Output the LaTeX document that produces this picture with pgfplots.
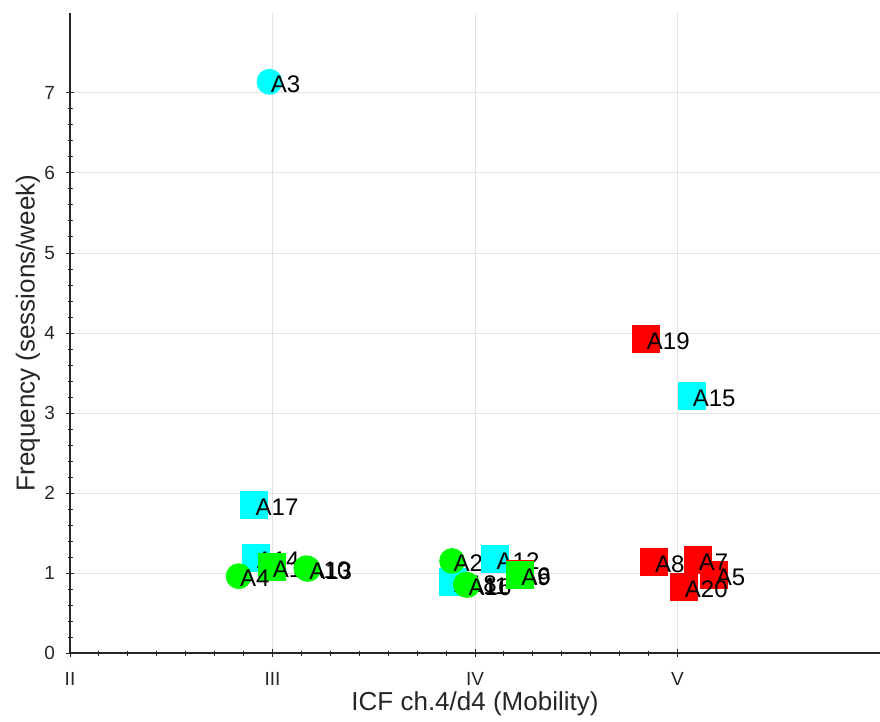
\documentclass[border=0pt]{standalone}
\usepackage{pgfplots}
\pgfplotsset{compat=1.18}
\usepackage{fontspec}
\setmainfont{Liberation Sans}
\definecolor{axcol}{HTML}{262626}
\definecolor{grdcol}{HTML}{E3E3E3}
\definecolor{pcyan}{HTML}{00FFFF}
\definecolor{pgreen}{HTML}{00FF00}
\definecolor{pred}{HTML}{FF0000}

\pgfplotsset{
  lbl/.style={nodes near coords, point meta=explicit symbolic,
    nodes near coords style={anchor=west, text=black, inner sep=0pt,
      xshift=0.5pt, yshift=-1pt, font=\fontsize{12}{14}\selectfont}},
  pc/.style={only marks, mark=*, mark size=6.25pt, color=#1, lbl},
  ps/.style={only marks, mark=square*, mark size=6.75pt, color=#1, lbl},
}

\begin{document}
\begin{tikzpicture}
\begin{axis}[
    scale only axis,
    width=405pt, height=320pt,
    xmin=2, xmax=6,
    ymin=0, ymax=8,
    xtick={2,3,4,5},
    xticklabels={II,III,IV,V},
    ytick={0,1,...,7},
    minor x tick num=6,
    minor y tick num=4,
    axis lines=left,
    axis line style={-, draw=axcol, line width=0.6pt},
    tick style={draw=axcol, line width=0.5pt},
    major tick length=4pt,
    minor tick length=2.5pt,
    grid=major,
    major grid style={draw=grdcol, line width=0.5pt},
    /pgf/number format/assume math mode=true,
    xticklabel style={font=\fontsize{9.5}{11}\selectfont, text=axcol, yshift=-4pt},
    yticklabel style={font=\fontsize{9.5}{11}\selectfont, text=axcol, xshift=-2pt},
    xlabel={ICF ch.4/d4 (Mobility)},
    ylabel={Frequency (sessions/week)},
    every axis x label/.style={at={(axis description cs:0.5,-0.08)}, anchor=center,
      font=\fontsize{13}{15}\selectfont, text=axcol},
    every axis y label/.style={at={(axis description cs:-0.052,0.5)}, anchor=center, rotate=90,
      font=\fontsize{13}{15}\selectfont, text=axcol},
    clip=false,
]
% III
\addplot[ps=pcyan]  coordinates {(2.916,1.19) [A14]};
\addplot[ps=pgreen] coordinates {(2.995,1.075) [A1]};
\addplot[pc=pgreen] coordinates {(2.833,0.96) [A4]};
\addplot[pc=pgreen] coordinates {(3.167,1.06) [A10]};
\addplot[pc=pgreen] coordinates {(3.175,1.05) [A13]};
\addplot[ps=pcyan]  coordinates {(2.91,1.85) [A17]};
\addplot[pc=pcyan]  coordinates {(2.985,7.14) [A3]};
% IV
\addplot[ps=pcyan]  coordinates {(3.89,0.89) [A18]};
\addplot[pc=pgreen] coordinates {(3.887,1.15) [A2]};
\addplot[pc=pgreen] coordinates {(3.955,0.855) [A11]};
\addplot[pc=pgreen] coordinates {(3.962,0.85) [A16]};
\addplot[ps=pcyan]  coordinates {(4.10,1.175) [A12]};
\addplot[ps=pred]   coordinates {(4.222,0.99) [A6]};
\addplot[ps=pgreen] coordinates {(4.222,0.975) [A9]};
% V
\addplot[ps=pred]   coordinates {(4.842,3.925) [A19]};
\addplot[ps=pcyan]  coordinates {(5.069,3.21) [A15]};
\addplot[ps=pred]   coordinates {(4.882,1.14) [A8]};
\addplot[ps=pred]   coordinates {(5.182,0.975) [A5]};
\addplot[ps=pred]   coordinates {(5.099,1.16) [A7]};
\addplot[ps=pred]   coordinates {(5.03,0.825) [A20]};
\end{axis}
\pgfresetboundingbox
\path[use as bounding box] ([xshift=-35pt,yshift=-34pt]current axis.south west) rectangle ([yshift=6.5pt]current axis.north east);
\end{tikzpicture}
\end{document}
